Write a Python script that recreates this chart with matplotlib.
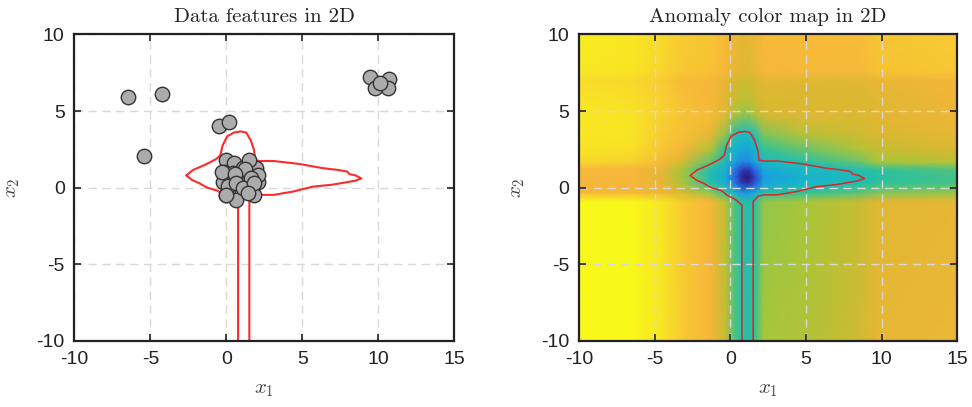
import numpy as np
import matplotlib
matplotlib.use("Agg")
import matplotlib.pyplot as plt
from matplotlib.colors import LinearSegmentedColormap

plt.rcParams['font.family'] = ['Liberation Sans', 'DejaVu Sans']
plt.rcParams['mathtext.fontset'] = 'cm'
plt.rcParams['axes.unicode_minus'] = False

# data points (outliers + main cluster)
outlier_x = [-6.5, -4.26, -5.4, -0.46, 0.2, 9.47, 10.7, 9.78, 10.6, 10.1]
outlier_y = [5.9, 6.13, 2.07, 4.05, 4.27, 7.2, 7.1, 6.48, 6.52, 6.85]
cluster_x = [0.0, 1.5, 0.53, 1.95, -0.13, 1.07, 0.44, -0.2, 0.77, 1.51, 2.06,
             0.09, 1.2, -0.02, 0.63, 1.84, 2.06, 1.5, -0.3, 1.2, 0.55, 1.6,
             0.1, 0.65, 1.1, 1.8, 1.4, 0.0]
cluster_y = [1.81, 1.7, 1.6, 1.28, 1.05, 1.26, 0.93, 0.39, 0.39, 0.52, 0.39,
             -0.15, -0.15, -0.48, -0.8, -0.48, 0.83, 1.8, 1.05, 1.2, 0.9, 0.6,
             0.1, 0.3, -0.05, 0.3, -0.35, -0.45]

# decision boundary (red contour)
contour_x = [0.77, 0.77, 0.45, 0.2, -0.2, -0.57, -1.25, -1.8, -2.25, -2.65,
             -2.45, -2.2, -1.35, -0.7, -0.4, -0.25, 0.05, 0.5, 0.95, 1.3, 1.6,
             1.82, 1.9, 2.2, 3.1, 4.8, 6.3, 7.4, 7.95, 8.1, 8.5, 8.88, 8.45,
             7.0, 5.7, 4.4, 3.1, 2.2, 1.85, 1.51, 1.51]
contour_y = [-10, -1.13, -0.85, -0.69, -0.5, -0.2, 0.0, 0.3, 0.5, 0.8, 0.95,
             1.15, 1.52, 1.85, 2.1, 2.75, 3.35, 3.6, 3.67, 3.6, 3.1, 2.45, 1.8,
             1.74, 1.74, 1.55, 1.28, 1.15, 1.05, 0.88, 0.8, 0.6, 0.45, 0.2,
             0.07, -0.25, -0.47, -0.47, -0.55, -0.9, -10]

# anomaly score (rows: grid_y, cols: grid_x)
grid_x = [-10, -6.5, -4.5, -3.2, -1.3, -0.3, 0.3, 0.8, 1.2, 1.6, 2.2, 5, 8.5, 9.8, 15]
grid_y = [-10, -0.9, -0.3, 0.3, 0.7, 1.2, 1.7, 2.5, 3.5, 4.8, 5.6, 7.0, 7.6, 10]
score = [
    [1.00, 1.00, 0.95, 0.88, 0.80, 0.68, 0.53, 0.48, 0.48, 0.50, 0.62, 0.64, 0.70, 0.76, 0.77],
    [1.00, 1.00, 0.95, 0.88, 0.80, 0.66, 0.53, 0.47, 0.46, 0.48, 0.60, 0.62, 0.68, 0.74, 0.76],
    [0.80, 0.80, 0.78, 0.72, 0.60, 0.48, 0.38, 0.28, 0.28, 0.34, 0.46, 0.50, 0.54, 0.58, 0.60],
    [0.80, 0.80, 0.76, 0.64, 0.47, 0.37, 0.22, 0.08, 0.06, 0.14, 0.32, 0.40, 0.45, 0.50, 0.52],
    [0.80, 0.80, 0.76, 0.62, 0.45, 0.35, 0.18, 0.02, 0.00, 0.10, 0.30, 0.38, 0.44, 0.48, 0.52],
    [0.80, 0.80, 0.76, 0.62, 0.46, 0.36, 0.22, 0.10, 0.08, 0.18, 0.34, 0.40, 0.46, 0.50, 0.54],
    [0.92, 0.90, 0.82, 0.72, 0.55, 0.42, 0.32, 0.25, 0.25, 0.32, 0.42, 0.48, 0.56, 0.62, 0.66],
    [0.95, 0.94, 0.86, 0.80, 0.64, 0.48, 0.38, 0.33, 0.33, 0.38, 0.50, 0.56, 0.64, 0.68, 0.72],
    [0.95, 0.95, 0.88, 0.84, 0.76, 0.60, 0.46, 0.42, 0.42, 0.46, 0.58, 0.66, 0.70, 0.72, 0.76],
    [0.96, 0.95, 0.90, 0.85, 0.82, 0.74, 0.64, 0.60, 0.60, 0.64, 0.72, 0.74, 0.73, 0.75, 0.78],
    [0.95, 0.94, 0.90, 0.84, 0.80, 0.74, 0.68, 0.66, 0.66, 0.68, 0.72, 0.72, 0.72, 0.74, 0.78],
    [0.93, 0.92, 0.88, 0.82, 0.80, 0.76, 0.72, 0.70, 0.70, 0.72, 0.75, 0.74, 0.74, 0.76, 0.80],
    [0.96, 0.95, 0.91, 0.87, 0.85, 0.80, 0.76, 0.74, 0.74, 0.76, 0.80, 0.81, 0.81, 0.85, 0.87],
    [0.97, 0.96, 0.92, 0.88, 0.86, 0.81, 0.77, 0.75, 0.75, 0.77, 0.81, 0.82, 0.82, 0.86, 0.88],
]

ticks_x = [-10, -5, 0, 5, 10, 15]
ticks_y = [-10, -5, 0, 5, 10]

# parula-like colormap
parula = LinearSegmentedColormap.from_list("parula", [
    (0.00, "#2b1a7a"), (0.15, "#3056e8"), (0.30, "#1aa0e0"),
    (0.40, "#18b8c8"), (0.50, "#2ec29a"), (0.62, "#a8c63a"),
    (0.72, "#d8b830"), (0.80, "#f6b63a"), (0.90, "#f8d030"),
    (1.00, "#f8f81a")])

fig = plt.figure(figsize=(9.72, 4.07), dpi=100)
ax1 = fig.add_axes([0.0765, 0.1622, 0.391, 0.7533])
ax2 = fig.add_axes([0.5957, 0.1622, 0.389, 0.7533])


def style_axes(ax, title):
    ax.set_xlim(-10, 15)
    ax.set_ylim(-10, 10)
    ax.set_xticks(ticks_x)
    ax.set_yticks(ticks_y)
    ax.tick_params(direction='in', length=5, width=1.2, top=True, right=True,
                   labelsize=14, pad=7, colors='#222222', labelcolor='#222222')
    ax.grid(True, ls=(0, (6, 4)), color='#d8d8d8', lw=1.0)
    for sp in ax.spines.values():
        sp.set_linewidth(1.6)
        sp.set_color('#222222')
        sp.set_zorder(6)
    ax.set_title(title, fontfamily='cmr10', fontsize=15, pad=9, color='#222222')
    ax.set_xlabel(r'$x_1$', fontsize=15, labelpad=9, color='#444444')
    ax.set_ylabel(r'$x_2$', fontsize=15, labelpad=10, color='#444444')


# left: data features
ax1.set_axisbelow(True)
ax1.plot(contour_x, contour_y, color='#ff2a2a', lw=1.5, zorder=3)
ax1.scatter(outlier_x + cluster_x, outlier_y + cluster_y, s=108,
            facecolor='#ababab', edgecolor='#333333', linewidths=1.0, zorder=4)
style_axes(ax1, 'Data features in 2D')

# right: anomaly color map
ax2.pcolormesh(grid_x, grid_y, np.array(score), shading='gouraud',
               cmap=parula, vmin=0, vmax=1, zorder=1)
ax2.set_axisbelow(False)
ax2.plot(contour_x, contour_y, color='#d8262a', lw=1.1, zorder=3)
style_axes(ax2, 'Anomaly color map in 2D')

fig.savefig("out.png", dpi=100)
